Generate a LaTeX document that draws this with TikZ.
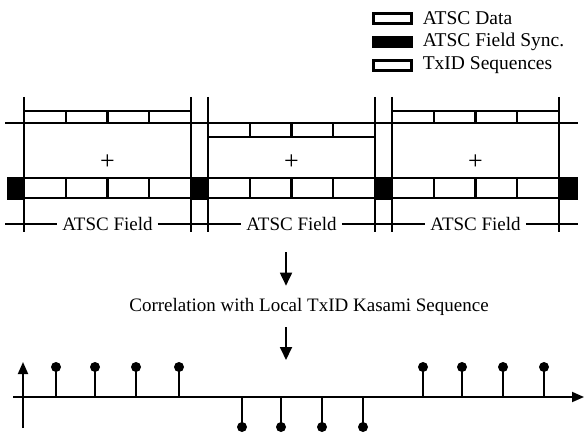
\documentclass[tikz,border=0pt]{standalone}
\usepackage{fontspec}
\setmainfont{Liberation Serif}
\usetikzlibrary{positioning,arrows.meta}

\begin{document}
\begin{tikzpicture}[
  x=1pt, y=-1pt,
  font=\fontsize{19}{22}\selectfont,
  frame/.style={line width=1.6pt},
  row/.style={line width=2.3pt},
  sync/.style={draw=black, fill=black, line width=1pt},
  legbox/.style={draw, line width=2.2pt, minimum width=38pt, minimum height=10pt, inner sep=0pt},
  leglabel/.style={font=\fontsize{19.5}{22}\selectfont, inner sep=0pt},
  fieldlab/.style={inner xsep=5pt, inner ysep=0pt},
  plus/.style={font=\fontsize{26}{26}\selectfont, inner sep=0pt},
  dot/.style={circle, fill=black, minimum size=10pt, inner sep=0pt},
  arr/.style={-{Triangle[length=13pt, width=12pt]}, line width=1.8pt},
  axis/.style={-{Triangle[length=12pt, width=10pt]}, line width=1.8pt},
  stem/.style={line width=1.8pt}]

\useasboundingbox (0,0) rectangle (585,433);

% legend
\node[legbox] (legdata) at (392.5,18.5) {};
\node[legbox, fill=black] (legsync) at (392.5,42) {};
\node[legbox] (legtxid) at (392.5,65.5) {};
\node[leglabel, right=10pt of legdata] (txtdata) {ATSC Data};
\node[leglabel, right=10pt of legsync] (txtsync) {ATSC Field Sync.};
\node[leglabel, right=10pt of legtxid] (txttxid) {TxID Sequences};

% TxID sequences
\draw[frame] (5,123) -- (578,123);
\draw[row] (24,111) rectangle (191,123);
\draw[row] (65.75,111) -- (65.75,123) (107.5,111) -- (107.5,123) (149.25,111) -- (149.25,123);
\draw[row] (208,123) rectangle (375,137);
\draw[row] (249.75,123) -- (249.75,137) (291.5,123) -- (291.5,137) (333.25,123) -- (333.25,137);
\draw[row] (392,111) rectangle (559,123);
\draw[row] (433.75,111) -- (433.75,123) (475.5,111) -- (475.5,123) (517.25,111) -- (517.25,123);

% ATSC data and field syncs
\draw[row] (24,178) rectangle (191,198);
\draw[row] (65.75,178) -- (65.75,198) (107.5,178) -- (107.5,198) (149.25,178) -- (149.25,198);
\draw[row] (208,178) rectangle (375,198);
\draw[row] (249.75,178) -- (249.75,198) (291.5,178) -- (291.5,198) (333.25,178) -- (333.25,198);
\draw[row] (392,178) rectangle (559,198);
\draw[row] (433.75,178) -- (433.75,198) (475.5,178) -- (475.5,198) (517.25,178) -- (517.25,198);
\draw[sync] (7,177) rectangle (24,199);
\draw[sync] (191,177) rectangle (208,199);
\draw[sync] (375,177) rectangle (392,199);
\draw[sync] (559,177) rectangle (577,199);

% field borders
\draw[frame] (24,97) -- (24,232) (191,97) -- (191,232);
\draw[frame] (208,97) -- (208,232) (375,97) -- (375,232);
\draw[frame] (392,97) -- (392,232) (559,97) -- (559,232);

\node[plus] (plus1) at (107.5,162) {+};
\node[plus] (plus2) at (291.5,162) {+};
\node[plus] (plus3) at (475.5,162) {+};

% field lengths
\coordinate (dimL) at (5,224);
\coordinate (dimR) at (578,224);
\node[fieldlab] (lab1) at (107.5,224) {ATSC Field};
\node[fieldlab] (lab2) at (291.5,224) {ATSC Field};
\node[fieldlab] (lab3) at (475.5,224) {ATSC Field};
\draw[frame] (dimL) -- (lab1) -- (lab2) -- (lab3) -- (dimR);

% correlation
\coordinate (fieldsout) at (286,252);
\coordinate (plotin) at (286,360);
\node[inner xsep=0pt, inner ysep=12pt] (corr) at (309,306.5) {Correlation with Local TxID Kasami Sequence};
\draw[arr] (fieldsout) -- (fieldsout |- corr.north);
\draw[arr] (plotin |- corr.south) -- (plotin);

% correlation output
\draw[axis] (13,397) -- (584,397);
\draw[axis] (23,428) -- (23,362);
\draw[stem] (56,397) -- (56,367) node[dot] (up1) {};
\draw[stem] (95,397) -- (95,367) node[dot] (up2) {};
\draw[stem] (136,397) -- (136,367) node[dot] (up3) {};
\draw[stem] (179,397) -- (179,367) node[dot] (up4) {};
\draw[stem] (242,397) -- (242,427) node[dot] (down1) {};
\draw[stem] (281,397) -- (281,427) node[dot] (down2) {};
\draw[stem] (322,397) -- (322,427) node[dot] (down3) {};
\draw[stem] (363,397) -- (363,427) node[dot] (down4) {};
\draw[stem] (423,397) -- (423,367) node[dot] (up5) {};
\draw[stem] (462,397) -- (462,367) node[dot] (up6) {};
\draw[stem] (503,397) -- (503,367) node[dot] (up7) {};
\draw[stem] (544,397) -- (544,367) node[dot] (up8) {};
\end{tikzpicture}
\end{document}
